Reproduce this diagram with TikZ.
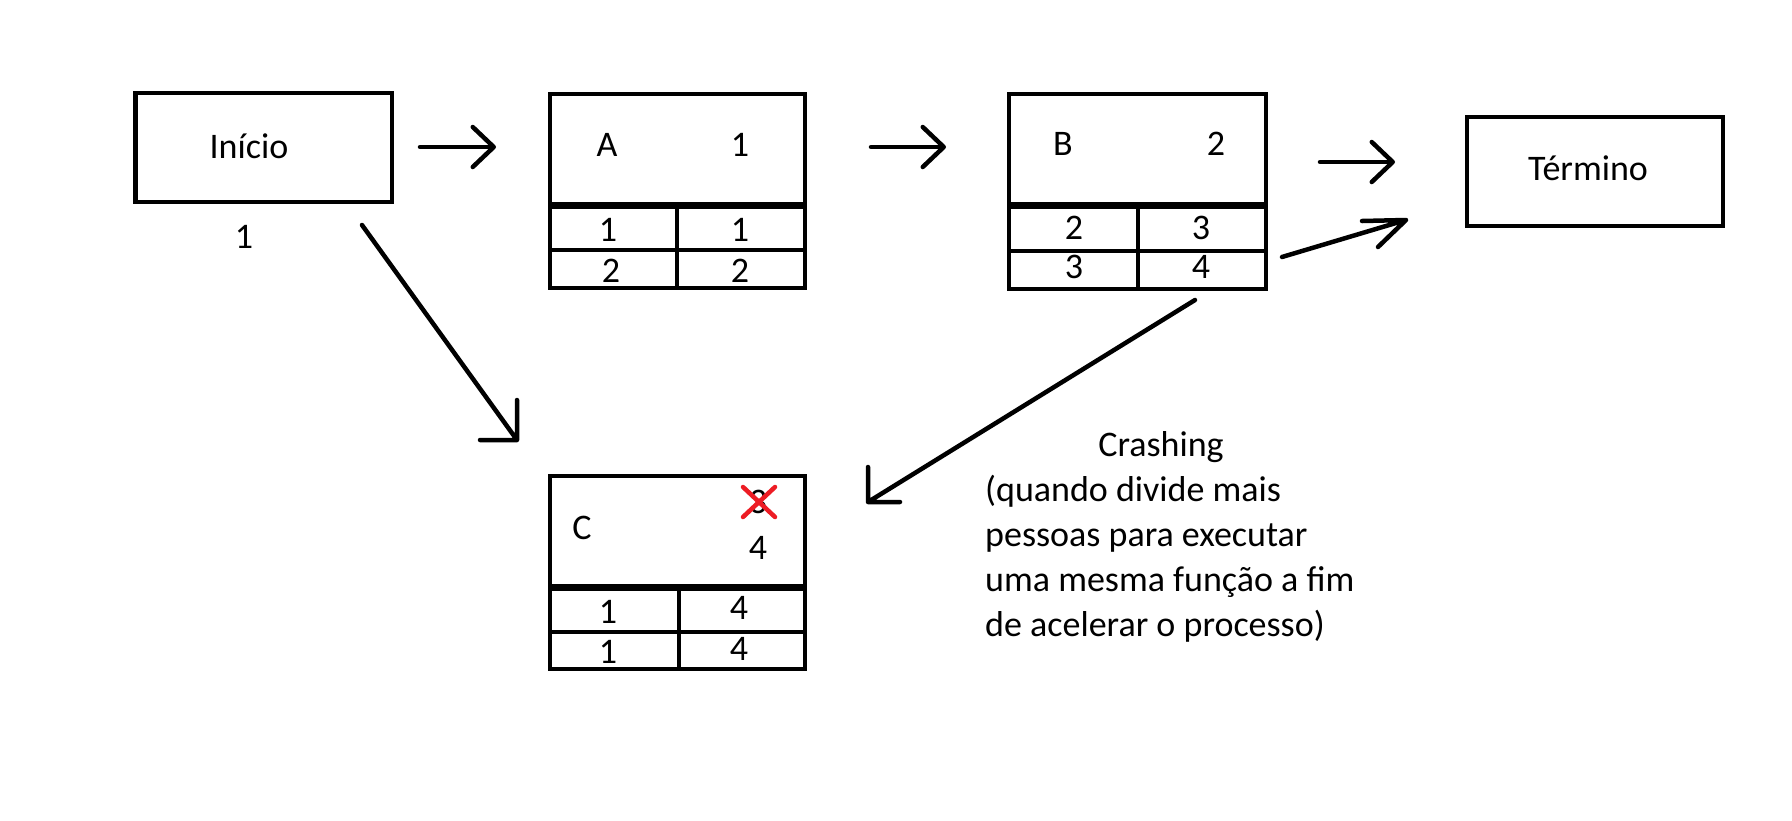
\documentclass[tikz,border=0pt]{standalone}
\usepackage{fontspec}
\setmainfont{Carlito}
\usetikzlibrary{arrows.meta}
\definecolor{paintred}{RGB}{237,28,36}
\tikzset{
  boxline/.style={draw=black, line width=4.5pt, fill=none, inner sep=0pt, outer sep=0pt},
  thickdiv/.style={draw=black, line width=7pt},
  thindiv/.style={draw=black, line width=4.5pt},
  lbl/.style={anchor=base, inner sep=0pt, font=\fontsize{36}{45}\selectfont},
  harrow/.style={line width=4.5pt, line cap=round, -{Straight Barb[length=21pt,width=40pt,round]}},
  conn/.style={line width=4.5pt, line cap=round, line join=round},
  crossline/.style={draw=paintred, line width=4.5pt, line cap=round}
}
\begin{document}
\begin{tikzpicture}[x=1pt,y=-1pt]
\useasboundingbox[fill=white] (0,0) rectangle (1792,820);

% Inicio
\node[boxline, minimum width=256.5pt, minimum height=109pt] (ini) at (263.75,147.5) {};
\node[lbl] (initxt) at (249,158) {Início};
\node[lbl] (inidur) at (244,248) {1};

% A
\node[boxline, minimum width=255pt, minimum height=194pt] (A) at (677.5,191) {};
\draw[thickdiv] (550,205) -- (805,205);
\draw[thindiv] (550,250) -- (805,250);
\draw[thindiv] (677,205) -- (677,288);
\node[lbl] (Aname) at (607,156) {A};
\node[lbl] (Adur) at (740,156) {1};
\node[lbl] (A11) at (608,241) {1};
\node[lbl] (A12) at (740,241) {1};
\node[lbl] (A21) at (611,282) {2};
\node[lbl] (A22) at (740,282) {2};

% B
\node[boxline, minimum width=257pt, minimum height=195pt] (B) at (1137.5,191.5) {};
\draw[thickdiv] (1009,205) -- (1266,205);
\draw[thindiv] (1009,251) -- (1266,251);
\draw[thindiv] (1138,205) -- (1138,289);
\node[lbl] (Bname) at (1063,155) {B};
\node[lbl] (Bdur) at (1216,155) {2};
\node[lbl] (B11) at (1074,239) {2};
\node[lbl] (B12) at (1201,239) {3};
\node[lbl] (B21) at (1074,278) {3};
\node[lbl] (B22) at (1201,278) {4};

% Termino
\node[boxline, minimum width=256pt, minimum height=109pt] (fim) at (1595,171.5) {};
\node[lbl] (fimtxt) at (1588,180) {Término};

% C
\node[boxline, minimum width=255pt, minimum height=193pt] (C) at (677.5,572.5) {};
\draw[thickdiv] (550,587) -- (805,587);
\draw[thindiv] (550,632) -- (805,632);
\draw[thindiv] (679,587) -- (679,669);
\node[lbl] (Cname) at (582,539) {C};
\node[lbl] (Cold) at (758,513) {3};
\node[lbl] (Cdur) at (758,559) {4};
\draw[crossline] (743,487) -- (775,517);
\draw[crossline] (775,487) -- (743,517);
\node[lbl] (C11) at (608,623) {1};
\node[lbl] (C12) at (739,619) {4};
\node[lbl] (C21) at (608,663) {1};
\node[lbl] (C22) at (739,660) {4};

% Crashing note
\node[lbl] (crash) at (1161,456) {Crashing};
\node[anchor=base west, inner sep=0pt, align=left, font=\fontsize{36}{45}\selectfont] (note) at (985,636)
  {(quando divide mais\\pessoas para executar\\uma mesma função a fim\\de acelerar o processo)};

% connector end points
\coordinate (iniA1) at (420,147);  \coordinate (iniA2) at (496,147);
\coordinate (AB1) at (871,147);    \coordinate (AB2) at (946,147);
\coordinate (Bf1) at (1320,162);   \coordinate (Bf2) at (1395,162);
\coordinate (Bf3) at (1282,257);   \coordinate (Bf4) at (1406,220);
\coordinate (iniC1) at (362,225);  \coordinate (iniC2) at (517,440);
\coordinate (BC1) at (1195,300);   \coordinate (BC2) at (868,502);

\draw[harrow] (iniA1) -- (iniA2);
\draw[harrow] (AB1) -- (AB2);
\draw[harrow] (Bf1) -- (Bf2);
\draw[conn] (Bf3) -- (Bf4) -- ++(-44,1) (Bf4) -- ++(-28,27);
\draw[conn] (iniC1) -- (iniC2) -- ++(0,-40) (iniC2) -- ++(-37,0);
\draw[conn] (BC1) -- (BC2) -- ++(0,-35) (BC2) -- ++(32,0);
\end{tikzpicture}
\end{document}
